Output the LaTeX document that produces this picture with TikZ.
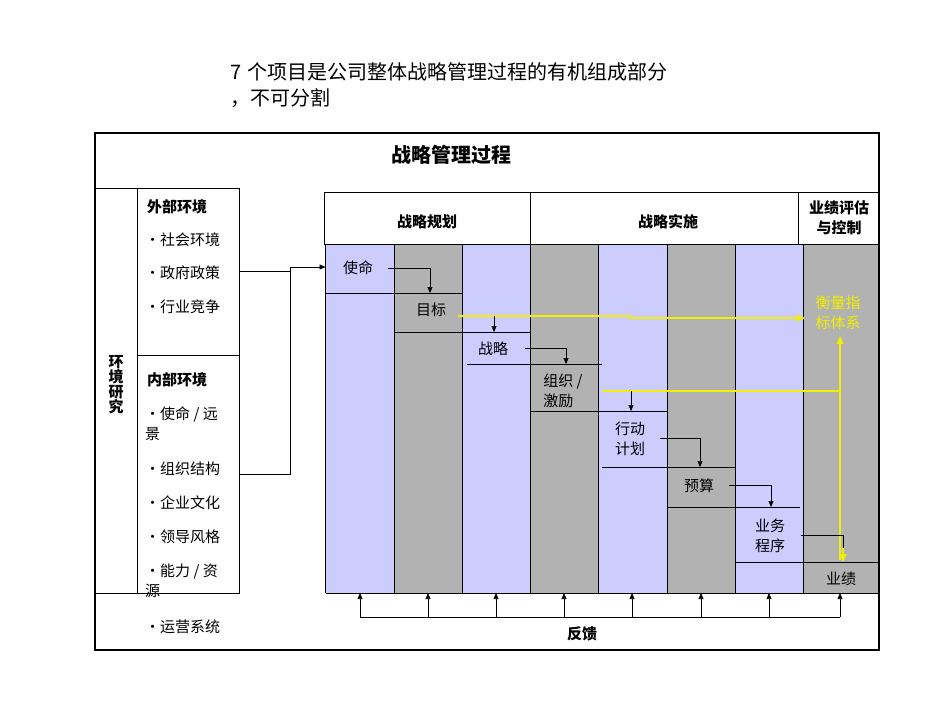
\documentclass[tikz,border=0pt]{standalone}
\usepackage{fontspec}
\setmainfont{Noto Sans CJK SC}
\usetikzlibrary{arrows.meta}
\definecolor{lav}{HTML}{CCCCFF}
\definecolor{gry}{HTML}{B2B2B2}
\definecolor{yel}{HTML}{F0F000}
\tikzset{
  t/.style={font=\fontsize{15}{20}\selectfont, inner sep=0pt, align=center},
  tb/.style={t, font=\fontsize{15}{20}\selectfont\bfseries},
  lt/.style={t, anchor=west, align=left},
  ar/.style={-{Triangle[length=6pt,width=5pt]}, line width=0.6pt},
  ln/.style={line width=0.6pt},
  yl/.style={yel, line width=1.3pt},
  yar/.style={yl, -{Triangle[length=8pt,width=7pt]}},
}
\begin{document}
\begin{tikzpicture}[x=1pt,y=-1pt]
\useasboundingbox (0,0) rectangle (950,713);
\fill[white] (0,0) rectangle (950,713);
\node[lt, font=\fontsize{20}{26}\selectfont, text width=560pt] (top) at (230,85) {7 个项目是公司整体战略管理过程的有机组成部分\\，不可分割};
% columns
\foreach \i/\c in {0/lav,1/gry,2/lav,3/gry,4/lav,5/gry,6/lav} {
  \fill[\c] ({325.5+68.3*\i},244) rectangle ({325.5+68.3*(\i+1)},593);
  \draw[ln] ({325.5+68.3*\i},244) -- ({325.5+68.3*\i},593);
}
\fill[gry] (803.6,244) rectangle (879,593);
\draw[ln] (803.6,244) -- (803.6,593);
\draw[ln] (325.5,593) -- (879,593);
% header
\draw[ln] (324,192) rectangle (530,244) (530,192) rectangle (798,244) (798,192) rectangle (879,244);
\node[tb] (h1) at (427,222) {战略规划};
\node[tb] (h2) at (668,222) {战略实施};
\node[tb] (h3) at (839,218) {业绩评估\\与控制};
% frame
\draw[line width=1.5pt] (95,133) rectangle (879,650);
\node[tb, font=\fontsize{20}{24}\selectfont\bfseries] (title) at (451,155) {战略管理过程};
\draw[ln] (95,188) -- (239,188) -- (239,593) -- (95,593);
\draw[ln] (137,188) -- (137,593);
\draw[ln] (137,355) -- (239,355);
\node[tb, font=\fontsize{15}{15}\selectfont\bfseries] (env) at (116,385) {环\\境\\研\\究};
\node[tb, anchor=west] (ext) at (147,207) {外部环境};
\node[lt] (e1) at (145,240) {•社会环境};
\node[lt] (e2) at (145,273) {•政府政策};
\node[lt] (e3) at (145,307) {•行业竞争};
\node[tb, anchor=west] (int) at (147,380) {内部环境};
\node[lt] (i1) at (145,424) {•使命 / 远\\景};
\node[lt] (i2) at (145,469) {•组织结构};
\node[lt] (i3) at (145,503) {•企业文化};
\node[lt] (i4) at (145,537) {•领导风格};
\node[lt] (i5) at (145,581) {•能力 / 资\\源};
\node[lt] (i6) at (145,627) {•运营系统};
% left connectors
\coordinate (ea) at (239,271);
\coordinate (ia) at (239,474);
\coordinate (j) at (290,267);
\draw[ln] (ea) -- (290,271);
\draw[ln] (ia) -- (290,474) -- (j);
\draw[ar] (j) -- (325.5,267);
% steps
\node[t] (s1) at (358,268) {使命};
\node[t] (s2) at (431,310) {目标};
\node[t] (s3) at (493,349) {战略};
\node[t, align=left] (s4) at (563,391) {组织 /\\激励};
\node[t] (s5) at (630,439) {行动\\计划};
\node[t] (s6) at (699,486) {预算};
\node[t] (s7) at (770,536) {业务\\程序};
\node[t] (s8) at (841,579) {业绩};
\node[t, text=yel] (m) at (838,313) {衡量指\\标体系};
% underlines
\draw[ln] (325.5,293) -- (462,293);
\draw[ln] (394,332) -- (530,332);
\draw[ln] (467,364) -- (602,364);
\draw[ln] (530,411) -- (667,411);
\draw[ln] (602,467) -- (735,467);
\draw[ln] (667,507) -- (800,507);
\draw[ln] (735.5,562) -- (879,562);
% yellow lines
\draw[yl] (458,316) -- (630,316) -- (630,318) -- (796,318);
\draw[yar] (790,318) -- (805,318);
\draw[yl] (602,391) -- (840,391);
\draw[yl] (840,560) -- (840,348);
\draw[yar] (840,350) -- (840,336);
\draw[yar] (843,548) -- (843,562);
% black step arrows
\draw[ar] (388,268) -- (430,268) -- (430,293);
\draw[ar] (494,316) -- (494,332);
\draw[ar] (525,348) -- (566,348) -- (566,364);
\draw[ar] (631,391) -- (631,411);
\draw[ar] (660,438) -- (700,438) -- (700,467);
\draw[ar] (729,485) -- (771,485) -- (771,507);
\draw[ln] (801,535) -- (843,535) -- (843,548);
% feedback
\draw[ln] (360,617) -- (840,617);
\foreach \x in {360,428,496,564,632,701,769,840} \draw[ar] (\x,617) -- (\x,593);
\node[tb] (fb) at (582,634) {反馈};
\end{tikzpicture}
\end{document}
